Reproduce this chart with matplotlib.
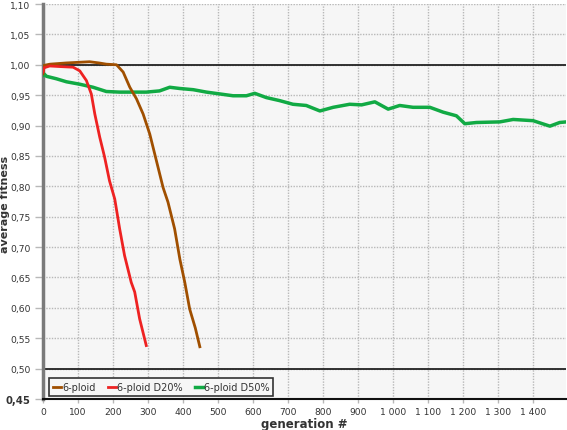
import matplotlib
matplotlib.use("Agg")
import matplotlib.pyplot as plt
from matplotlib.ticker import FuncFormatter

# ---- data ----
gen_ploid = [0, 3, 20, 67, 100, 133, 160, 181, 210, 229, 248, 267, 286, 305, 324, 343,
             357, 376, 391, 405, 419, 435, 448]
fit_ploid = [0.985, 0.999, 1.001, 1.003, 1.004, 1.005, 1.003, 1.001, 1.000, 0.988, 0.963,
             0.944, 0.919, 0.886, 0.842, 0.798, 0.774, 0.730, 0.680, 0.642, 0.598, 0.567, 0.536]

gen_d20 = [0, 3, 19, 50, 86, 105, 124, 138, 148, 162, 176, 190, 205, 219, 233, 252, 262,
           276, 295]
fit_d20 = [0.988, 0.995, 0.998, 0.997, 0.996, 0.990, 0.974, 0.952, 0.919, 0.881, 0.848,
           0.809, 0.779, 0.730, 0.686, 0.642, 0.626, 0.582, 0.538]

gen_d50 = [0, 3, 10, 38, 67, 105, 143, 181, 219, 257, 295, 333, 362, 390, 429, 467, 505,
           543, 581, 605, 638, 676, 714, 752, 791, 829, 876, 910, 948, 986, 1019, 1057,
           1105, 1143, 1181, 1205, 1238, 1305, 1343, 1400, 1448, 1476, 1495]
fit_d50 = [0.983, 0.985, 0.981, 0.977, 0.972, 0.968, 0.963, 0.956, 0.955, 0.955, 0.955,
           0.957, 0.963, 0.961, 0.959, 0.955, 0.952, 0.949, 0.949, 0.953, 0.946, 0.941,
           0.935, 0.933, 0.924, 0.930, 0.935, 0.934, 0.939, 0.927, 0.933, 0.930, 0.930,
           0.922, 0.916, 0.903, 0.905, 0.906, 0.910, 0.908, 0.899, 0.905, 0.906]

series_labels = ["6-ploid", "6-ploid D20%", "6-ploid D50%"]
x_ticks = list(range(0, 1500, 100))
y_ticks = [0.45 + 0.05 * i for i in range(14)]

colors = ["#a04f00", "#ee2222", "#11aa44"]

fig = plt.figure(figsize=(5.67, 4.31), dpi=100)
ax = fig.add_axes([43 / 567, 1 - 400 / 431, (566 - 43) / 567, (400 - 5) / 431])
ax.set_facecolor("#f6f6f6")

ax.set_xlim(0, 1494)
ax.set_ylim(0.45, 1.10)
ax.set_xticks(x_ticks)
ax.set_yticks(y_ticks)

def xfmt(v, pos):
    return f"{int(round(v)):,}".replace(",", " ")

def yfmt(v, pos):
    return f"{v:.2f}".replace(".", ",")

ax.xaxis.set_major_formatter(FuncFormatter(xfmt))
ax.yaxis.set_major_formatter(FuncFormatter(yfmt))

ax.grid(True, color="#b8b8b8", linestyle=(0, (1, 1)), linewidth=1.0)
ax.set_axisbelow(True)

ax.axhline(1.00, color="#222222", linewidth=1.3, zorder=2)
ax.axhline(0.50, color="#222222", linewidth=1.3, zorder=2)

ax.plot(gen_d50, fit_d50, color=colors[2], linewidth=2.5, label=series_labels[2], zorder=3)
ax.plot(gen_ploid, fit_ploid, color=colors[0], linewidth=2.0, label=series_labels[0], zorder=4)
ax.plot(gen_d20, fit_d20, color=colors[1], linewidth=2.0, label=series_labels[1], zorder=5)

for s in ["top", "right"]:
    ax.spines[s].set_visible(False)
ax.spines["left"].set_color("#7a7a7a")
ax.spines["left"].set_linewidth(2.5)
ax.spines["bottom"].set_color("#111111")
ax.spines["bottom"].set_linewidth(1.5)

ax.tick_params(axis="both", labelsize=6.6, labelcolor="#333333", color="#b8b8b8",
               length=6, width=1)
ax.tick_params(axis="x", pad=3, length=3)
ax.tick_params(axis="y", pad=3)
for lbl in ax.get_yticklabels():
    if lbl.get_text() == "0,45":
        lbl.set_fontweight("bold")
        lbl.set_fontsize(7.2)

ax.set_xlabel("generation #", fontsize=8.5, fontweight="bold", color="#333333", va="center")
ax.set_ylabel("average fitness", fontsize=8, fontweight="bold", color="#333333", va="center")
ax.xaxis.set_label_coords((304 - 43) / 523, (400 - 425) / 395)
ax.yaxis.set_label_coords((5 - 43) / 523, (400 - 204) / 395)

h = ax.get_legend_handles_labels()
order = [1, 2, 0]
handles = [h[0][i] for i in order]
labels = [h[1][i] for i in order]
leg = ax.legend(handles, labels, loc="lower left", ncol=3, fontsize=7,
                handlelength=0.8, handletextpad=0.1, columnspacing=1.3,
                frameon=True, fancybox=False, borderpad=0.4,
                bbox_to_anchor=(0.012, 0.008), borderaxespad=0.0)
leg.get_frame().set_edgecolor("#333333")
leg.get_frame().set_facecolor("#f6f6f6")
leg.get_frame().set_linewidth(1.2)
leg.get_frame().set_alpha(1)
for t in leg.get_texts():
    t.set_color("#333333")

fig.savefig("out.png", dpi=100)
